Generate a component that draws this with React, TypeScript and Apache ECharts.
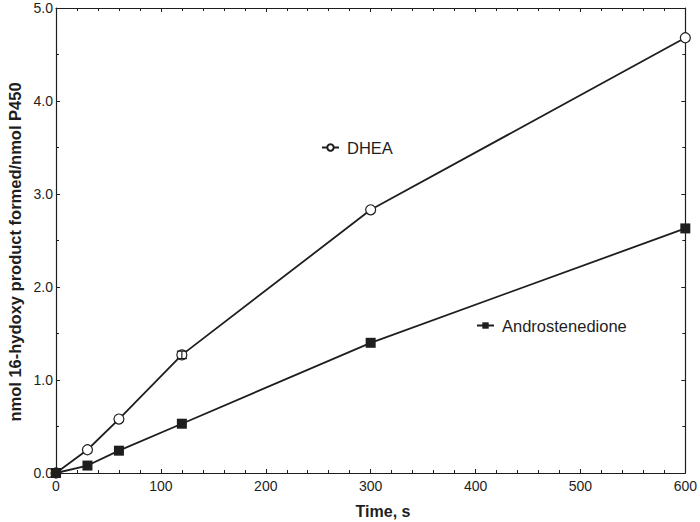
import React, { useEffect, useRef } from "react";
import * as echarts from "echarts";

const timeS = [0, 30, 60, 120, 300, 600];
const dhea = [0, 0.25, 0.58, 1.27, 2.83, 4.68];
const dheaErr = [0, 0, 0, 0.04, 0, 0];
const andro = [0, 0.08, 0.24, 0.53, 1.40, 2.63];
const xTicks = [0, 100, 200, 300, 400, 500, 600];
const yTicks = [0, 1, 2, 3, 4, 5];
const xTitle = "Time, s";
const yTitle = "nmol 16-hydoxy product formed/nmol P450";

const FONT = "'Liberation Sans', Arial, Helvetica, sans-serif";
const INK = "#1e1e1e";

export default function App() {
  const ref = useRef<HTMLDivElement>(null);
  useEffect(() => {
    if (!ref.current) return;
    const chart = echarts.init(ref.current, undefined, { renderer: "svg" });
    const axisCommon = {
      axisLine: { show: true, onZero: false, lineStyle: { color: INK, width: 1.2 } },
      axisTick: { show: true, inside: true, length: 4, lineStyle: { color: INK } },
      minorTick: { show: true, length: 3, lineStyle: { color: INK } },
      splitLine: { show: false },
    };
    const errData = timeS
      .map((t, i) => [t, dhea[i] - dheaErr[i], dhea[i] + dheaErr[i]])
      .filter((_, i) => dheaErr[i] > 0);
    const legendCommon = {
      itemWidth: 17,
      itemHeight: 8,
      padding: 0,
      textStyle: { fontSize: 16.5, color: INK, fontFamily: FONT, padding: [0, 0, 0, 3] },
    };
    chart.setOption({
      animation: false,
      textStyle: { fontFamily: FONT },
      grid: { left: 56, right: 14, top: 8, bottom: 49, containLabel: false },
      legend: [
        { ...legendCommon, data: ["DHEA"], left: 321, top: 139 },
        { ...legendCommon, data: ["Androstenedione"], left: 476, top: 317 },
      ],
      graphic: [
        {
          type: "text",
          x: 383,
          y: 511,
          style: {
            text: xTitle,
            fontSize: 16,
            fontWeight: "bold",
            fill: INK,
            fontFamily: FONT,
            align: "center",
            verticalAlign: "middle",
          },
        },
        {
          type: "text",
          x: 15,
          y: 252,
          rotation: Math.PI / 2,
          style: {
            text: yTitle,
            fontSize: 16.5,
            fontWeight: "bold",
            fill: INK,
            fontFamily: FONT,
            align: "center",
            verticalAlign: "middle",
          },
        },
      ],
      xAxis: [
        {
          type: "value",
          min: 0,
          max: 600,
          interval: 100,
          position: "bottom",
          ...axisCommon,
          minorTick: { ...axisCommon.minorTick, splitNumber: 5 },
          axisLabel: {
            fontSize: 14,
            color: INK,
            margin: 6,
            formatter: (v: number) => (xTicks.includes(v) ? String(v) : ""),
          },
        },
        {
          type: "value",
          min: 0,
          max: 600,
          interval: 100,
          position: "top",
          ...axisCommon,
          minorTick: { ...axisCommon.minorTick, splitNumber: 5 },
          axisLabel: { show: false },
        },
      ],
      yAxis: [
        {
          type: "value",
          min: 0,
          max: 5,
          interval: 1,
          position: "left",
          ...axisCommon,
          minorTick: { ...axisCommon.minorTick, splitNumber: 2 },
          axisLabel: {
            fontSize: 14,
            color: INK,
            margin: 3,
            formatter: (v: number) => (yTicks.includes(v) ? v.toFixed(1) : ""),
          },
        },
        {
          type: "value",
          min: 0,
          max: 5,
          interval: 1,
          position: "right",
          ...axisCommon,
          minorTick: { ...axisCommon.minorTick, splitNumber: 2 },
          axisLabel: { show: false },
        },
      ],
      series: [
        {
          name: "DHEA",
          type: "line",
          data: timeS.map((t, i) => [t, dhea[i]]),
          symbol: "circle",
          symbolSize: 10,
          showAllSymbol: true,
          lineStyle: { color: INK, width: 1.8 },
          itemStyle: { color: "#ffffff", borderColor: INK, borderWidth: 1.2 },
          z: 3,
        },
        {
          name: "Androstenedione",
          type: "line",
          data: timeS.map((t, i) => [t, andro[i]]),
          symbol: "rect",
          symbolSize: 10,
          showAllSymbol: true,
          lineStyle: { color: INK, width: 1.8 },
          itemStyle: { color: INK, borderColor: INK, borderWidth: 0 },
          z: 3,
        },
        {
          type: "custom",
          data: errData,
          z: 4,
          renderItem: (params: any, api: any) => {
            const x = api.value(0);
            const lo = api.coord([x, api.value(1)]);
            const hi = api.coord([x, api.value(2)]);
            const w = 5;
            const style = { stroke: INK, lineWidth: 1.2 };
            return {
              type: "group",
              children: [
                { type: "line", shape: { x1: lo[0], y1: lo[1], x2: hi[0], y2: hi[1] }, style },
                { type: "line", shape: { x1: lo[0] - w, y1: lo[1], x2: lo[0] + w, y2: lo[1] }, style },
                { type: "line", shape: { x1: hi[0] - w, y1: hi[1], x2: hi[0] + w, y2: hi[1] }, style },
              ],
            };
          },
        },
      ],
    });
    return () => chart.dispose();
  }, []);
  return (
    <div
      ref={ref}
      style={{ position: "absolute", left: 0, top: 0, width: 700, height: 522, background: "#fff" }}
    />
  );
}
